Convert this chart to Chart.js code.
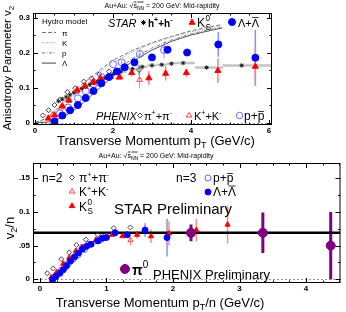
<!DOCTYPE html>
<html>
<head>
<meta charset="utf-8">
<script src="https://cdn.jsdelivr.net/npm/chart.js@4.4.0/dist/chart.umd.min.js"></script>
<style>
body{margin:0;background:#fff;width:346px;height:312px;overflow:hidden;position:relative}
#top{position:absolute;left:0;top:0}
#bot{position:absolute;left:0;top:150px}
</style>
</head>
<body>
<canvas id="top" width="346" height="150"></canvas>
<canvas id="bot" width="346" height="162"></canvas>
<script>
// ---- top panel: v2 vs pT ----
var topXTicks = [0, 2, 4, 6];
var topYTicks = [0, 0.1, 0.2, 0.3];
var topYLabels = ['0', '0.1', '0.2', '0.3'];

var hydroPt = [0, 0.25, 0.5, 0.75, 1.0, 1.25, 1.5, 1.75, 2.0, 2.5, 3.0, 3.5, 4.0, 4.5, 4.8];
var hydroPi = [0, 0.01, 0.032, 0.06, 0.09, 0.113, 0.135, 0.157, 0.178, 0.206, 0.228, 0.246, 0.262, 0.274, 0.28];
var hydroK = [0, 0.006, 0.025, 0.05, 0.078, 0.104, 0.128, 0.15, 0.171, 0.202, 0.225, 0.244, 0.259, 0.27, 0.276];
var hydroP = [0, 0.001, 0.008, 0.022, 0.042, 0.067, 0.093, 0.118, 0.142, 0.183, 0.213, 0.236, 0.253, 0.266, 0.272];
var hydroLam = [0, 0, 0.005, 0.017, 0.035, 0.058, 0.083, 0.108, 0.132, 0.175, 0.207, 0.232, 0.25, 0.263, 0.27];

var starLamPt = [0.5, 0.7, 0.9, 1.1, 1.3, 1.5, 1.7, 1.9, 2.1, 2.3, 2.55, 3.0, 3.4, 3.9, 4.7, 5.65];
var starLamV2 = [0.003, 0.02, 0.035, 0.05, 0.07, 0.09, 0.112, 0.13, 0.146, 0.158, 0.172, 0.186, 0.208, 0.2, 0.223, 0.185];
var starLamErr = [0, 0, 0, 0, 0, 0, 0, 0, 0, 0, 0, 0.006, 0.01, 0.01, 0.035, 0.08];

var starK0Pt = [0.34, 0.5, 0.7, 0.87, 1.08, 1.28, 1.5, 1.68, 1.9, 2.16, 2.48, 2.92, 3.35, 3.88, 4.69, 5.65];
var starK0V2 = [0.012, 0.021, 0.047, 0.064, 0.093, 0.104, 0.117, 0.126, 0.13, 0.129, 0.142, 0.127, 0.14, 0.142, 0.148, 0.16];
var starK0Err = [0, 0, 0, 0, 0, 0, 0, 0, 0, 0, 0.01, 0.02, 0.02, 0.012, 0.035, 0.055];

var starHPt = [0.6, 0.7, 0.8, 0.9, 1.0, 1.1, 1.2, 1.3, 1.4, 1.5, 1.6, 1.7, 1.8, 1.9, 2.0, 2.2, 2.5, 2.75, 3.0, 3.25, 3.5, 3.8, 4.4, 5.3];
var starHV2 = [0.061, 0.067, 0.073, 0.079, 0.085, 0.091, 0.097, 0.103, 0.108, 0.113, 0.118, 0.123, 0.128, 0.133, 0.138, 0.145, 0.153, 0.159, 0.163, 0.165, 0.168, 0.17, 0.157, 0.163];
var starHLo = [null, null, null, null, null, null, null, null, null, null, null, null, null, null, null, 2.1, 2.35, 2.62, 2.88, 3.12, 3.38, 3.55, 4.1, 4.82];
var starHHi = [null, null, null, null, null, null, null, null, null, null, null, null, null, null, null, 2.35, 2.62, 2.88, 3.12, 3.38, 3.55, 4.1, 4.82, 6.1];

var phxPiPt = [0.2, 0.35, 0.5, 0.65, 0.83, 1.03, 1.25, 1.45, 1.65, 1.9, 2.2, 2.67];
var phxPiV2 = [0.02, 0.035, 0.05, 0.066, 0.087, 0.098, 0.117, 0.126, 0.138, 0.146, 0.15, 0.15];
var phxPiErr = [0, 0, 0, 0, 0, 0, 0, 0, 0, 0, 0.006, 0.015];

var phxKPt = [0.45, 0.67, 0.87, 1.07, 1.28, 1.5, 1.72, 1.95, 2.18, 2.68];
var phxKV2 = [0.022, 0.043, 0.062, 0.088, 0.102, 0.113, 0.122, 0.13, 0.131, 0.122];
var phxKErr = [0, 0, 0, 0, 0, 0, 0, 0, 0.008, 0.025];

var phxPPt = [0.64, 0.85, 1.1, 1.3, 1.5, 1.71, 2.0, 2.22, 2.69, 3.31];
var phxPV2 = [0.026, 0.043, 0.069, 0.09, 0.11, 0.129, 0.167, 0.172, 0.196, 0.207];
var phxPErr = [0, 0, 0, 0, 0, 0, 0, 0.006, 0.01, 0.025];

// ---- bottom panel: v2/n vs pT/n ----
var botXTicks = [0, 1, 2, 3, 4];
var botYTicks = [0, 0.05, 0.1, 0.15];
var botYLabels = ['0', '.05', '0.1', '.15'];
var fitLevel = 0.069;

var bPiX = [0.11, 0.2, 0.32, 0.44, 0.55, 0.69, 0.87, 1.11, 1.36];
var bPiY = [0.009, 0.016, 0.03, 0.04, 0.051, 0.059, 0.066, 0.076, 0.077];

var bKX = [0.22, 0.3, 0.38, 0.46, 0.54, 0.62, 0.72, 0.85, 1.0, 1.36];
var bKY = [0.006, 0.014, 0.022, 0.033, 0.041, 0.048, 0.053, 0.06, 0.064, 0.058];
var bKErr = [0, 0, 0, 0, 0, 0, 0, 0, 0, 0.008];

var bK0X = [0.17, 0.25, 0.35, 0.44, 0.54, 0.64, 0.75, 0.84, 0.95, 1.08, 1.24, 1.46, 1.67, 1.94, 2.35, 2.82];
var bK0Y = [0.003, 0.01, 0.023, 0.032, 0.042, 0.048, 0.052, 0.058, 0.062, 0.066, 0.064, 0.066, 0.064, 0.068, 0.073, 0.081];
var bK0Err = [0, 0, 0, 0, 0, 0, 0, 0, 0, 0, 0, 0.006, 0.01, 0.018, 0.017, 0.028];

var bPX = [0.21, 0.28, 0.37, 0.43, 0.5, 0.57, 0.67, 0.74, 0.9];
var bPY = [0.003, 0.01, 0.017, 0.024, 0.03, 0.036, 0.044, 0.052, 0.058];

var bLamX = [0.19, 0.24, 0.3, 0.35, 0.4, 0.46, 0.52, 0.58, 0.64, 0.7, 0.77, 0.87, 0.94, 1.0, 1.13, 1.31, 1.58, 1.91];
var bLamY = [-0.001, 0.004, 0.009, 0.014, 0.02, 0.027, 0.033, 0.039, 0.045, 0.049, 0.052, 0.057, 0.061, 0.062, 0.069, 0.066, 0.073, 0.062];
var bLamErr = [0, 0, 0, 0, 0, 0, 0, 0, 0, 0, 0, 0, 0, 0, 0, 0, 0.01, 0.028];

var bPi0X = [2.27, 3.35, 4.37];
var bPi0Y = [0.069, 0.069, 0.05];
var bPi0Err = [0.0125, 0.03, 0.05];

var FONT = '"Liberation Sans", Arial, sans-serif';
function fnt(size, extra) { return (extra ? extra + ' ' : '') + size + 'px ' + FONT; }

function pts(xs, ys) {
  var out = [];
  for (var i = 0; i < xs.length; i++) out.push({x: xs[i], y: ys[i]});
  return out;
}

// error bars drawn under the markers
var errBars = {
  id: 'errBars',
  beforeDatasetsDraw: function(chart) {
    var ctx = chart.ctx, x = chart.scales.x, y = chart.scales.y, a = chart.chartArea;
    ctx.save();
    ctx.beginPath(); ctx.rect(a.left, a.top, a.right - a.left, a.bottom - a.top); ctx.clip();
    // zero line
    ctx.strokeStyle = '#999'; ctx.lineWidth = 1; ctx.setLineDash([2, 2]);
    var y0 = Math.round(y.getPixelForValue(0)) + 0.5;
    ctx.beginPath(); ctx.moveTo(a.left, y0); ctx.lineTo(a.right, y0); ctx.stroke();
    ctx.setLineDash([]);
    chart.data.datasets.forEach(function(ds) {
      if (!ds.errY && !ds.errLo) return;
      ctx.strokeStyle = ds.errColor; ctx.lineWidth = ds.errWidth || 1;
      ds.data.forEach(function(p, i) {
        var px = x.getPixelForValue(p.x), py = y.getPixelForValue(p.y);
        if (ds.errY && ds.errY[i]) {
          ctx.beginPath();
          ctx.moveTo(px, y.getPixelForValue(p.y - ds.errY[i]));
          ctx.lineTo(px, y.getPixelForValue(p.y + ds.errY[i]));
          ctx.stroke();
        }
        if (ds.errLo && ds.errLo[i] != null) {
          ctx.beginPath();
          ctx.moveTo(x.getPixelForValue(ds.errLo[i]), py);
          ctx.lineTo(x.getPixelForValue(ds.errHi[i]), py);
          ctx.stroke();
        }
      });
    });
    ctx.restore();
  }
};

function framePlugin(xMin, yMin) {
  return {
    id: 'frame',
    afterDatasetsDraw: function(chart) {
      var ctx = chart.ctx, a = chart.chartArea, x = chart.scales.x, y = chart.scales.y;
      ctx.save();
      ctx.strokeStyle = '#000'; ctx.lineWidth = 1;
      ctx.strokeRect(a.left + 0.5, a.top + 0.5, a.right - a.left - 1, a.bottom - a.top - 1);
      function xt(v, len) {
        var px = Math.round(x.getPixelForValue(v)) + 0.5;
        if (px < a.left + 1 || px > a.right - 1) return;
        ctx.beginPath();
        ctx.moveTo(px, a.bottom); ctx.lineTo(px, a.bottom - len);
        ctx.moveTo(px, a.top); ctx.lineTo(px, a.top + len);
        ctx.stroke();
      }
      function yt(v, len) {
        var py = Math.round(y.getPixelForValue(v)) + 0.5;
        if (py < a.top + 1 || py > a.bottom - 1) return;
        ctx.beginPath();
        ctx.moveTo(a.left, py); ctx.lineTo(a.left + len, py);
        ctx.moveTo(a.right, py); ctx.lineTo(a.right - len, py);
        ctx.stroke();
      }
      x.ticks.forEach(function(t) { xt(t.value, 5); });
      y.ticks.forEach(function(t) { yt(t.value, 5); });
      var k;
      for (k = Math.ceil(x.min / xMin); k * xMin <= x.max; k++) xt(k * xMin, 2.5);
      for (k = Math.ceil(y.min / yMin); k * yMin <= y.max; k++) yt(k * yMin, 2.5);
      ctx.restore();
    }
  };
}

// text with sub/superscripts: parts = [text, font, dy, overline]
function rich(ctx, x, y, parts, align) {
  var w = 0;
  parts.forEach(function(p) { ctx.font = p[1]; w += ctx.measureText(p[0]).width; });
  var cx = align === 'center' ? x - w / 2 : x;
  parts.forEach(function(p) {
    ctx.font = p[1];
    var tw = ctx.measureText(p[0]).width;
    ctx.fillText(p[0], cx, y + (p[2] || 0));
    if (p[3]) {
      ctx.beginPath(); ctx.lineWidth = 0.8;
      var oy = y + (p[2] || 0) - p[3];
      ctx.moveTo(cx + 0.5, oy); ctx.lineTo(cx + tw - 0.5, oy); ctx.stroke();
    }
    cx += tw;
  });
  return w;
}

function mark(ctx, style, x, y, r, fill, stroke) {
  ctx.save();
  ctx.fillStyle = fill || 'rgba(0,0,0,0)';
  ctx.strokeStyle = stroke || fill;
  ctx.lineWidth = 1;
  Chart.helpers.drawPoint(ctx, {pointStyle: style, radius: r, rotation: 0, borderWidth: 1}, x, y);
  ctx.restore();
}

function header(ctx, cx, by) {
  ctx.fillStyle = '#000'; ctx.strokeStyle = '#000';
  rich(ctx, cx, by, [
    ['Au+Au: \u221A', fnt(7)], ['s', fnt(7), 0, 6], ['NN', fnt(5), 1.5, 7.5],
    [' = 200 GeV: Mid-rapidity', fnt(7)]
  ], 'center');
}

function kShort(ctx, x, y, size) {
  ctx.font = fnt(size);
  ctx.fillText('K', x, y);
  var w = ctx.measureText('K').width;
  ctx.font = fnt(size * 0.68);
  ctx.fillText('0', x + w + 0.5, y - size * 0.5);
  ctx.fillText('S', x + w + 0.5, y + size * 0.25);
}

var topText = {
  id: 'topText',
  afterDraw: function(chart) {
    var ctx = chart.ctx;
    ctx.save();
    ctx.fillStyle = '#000'; ctx.strokeStyle = '#000'; ctx.textBaseline = 'alphabetic';
    header(ctx, 162, 8);
    // y title
    ctx.save();
    ctx.translate(11, 68); ctx.rotate(-Math.PI / 2);
    rich(ctx, 0, 0, [['Anisotropy Parameter v', fnt(11.5)], ['2', fnt(8), 3]], 'center');
    ctx.restore();
    // x title
    rich(ctx, 156, 145, [['Transverse Momentum p', fnt(13)], ['T', fnt(9), 3], [' (GeV/c)', fnt(13)]], 'center');
    // hydro legend
    ctx.font = fnt(8);
    ctx.fillText('Hydro model', 42, 24);
    var lab = ['\u03C0', 'K', 'p', '\u039B'];
    var dashes = [[4, 2], [1, 1.5], [3, 1.5, 1, 1.5], []];
    var cols = ['#777', '#999', '#777', '#444'];
    for (var i = 0; i < 4; i++) {
      var ly = 32.5 + i * 10.2;
      ctx.save(); ctx.setLineDash(dashes[i]); ctx.strokeStyle = cols[i]; ctx.lineWidth = 1;
      ctx.beginPath(); ctx.moveTo(42, ly); ctx.lineTo(56, ly); ctx.stroke(); ctx.restore();
      ctx.font = fnt(8); ctx.fillText(lab[i], 62, ly + 3);
    }
    // STAR row
    ctx.font = fnt(11, 'italic'); ctx.fillText('STAR', 108, 27);
    mark(ctx, 'star', 143.5, 22.5, 2.5, null, '#000');
    rich(ctx, 148, 27, [['h', fnt(10, 'bold')], ['+', fnt(7, 'bold'), -5], ['+h', fnt(10, 'bold')], ['-', fnt(7, 'bold'), -5]]);
    mark(ctx, 'triangle', 192, 22.5, 3.5, '#f00', '#f00');
    ctx.fillStyle = '#000'; kShort(ctx, 197, 27, 12);
    mark(ctx, 'circle', 232, 22, 3.5, '#00f', '#00f');
    ctx.fillStyle = '#000';
    rich(ctx, 238, 27, [['\u039B+', fnt(11)], ['\u039B', fnt(11), 0, 9.5]]);
    // PHENIX row
    ctx.font = fnt(11, 'italic'); ctx.fillText('PHENIX', 96, 120);
    mark(ctx, 'rectRot', 140, 115.5, 2.5, null, '#444');
    ctx.fillStyle = '#000';
    rich(ctx, 144, 120, [['\u03C0', fnt(11)], ['+', fnt(7), -5], ['+\u03C0', fnt(11)], ['-', fnt(7), -5]]);
    mark(ctx, 'triangle', 189, 115.5, 3.2, null, '#f44');
    ctx.fillStyle = '#000';
    rich(ctx, 194, 120, [['K', fnt(11)], ['+', fnt(7), -5], ['+K', fnt(11)], ['-', fnt(7), -5]]);
    mark(ctx, 'circle', 239.5, 115.5, 3.2, null, '#66f');
    ctx.fillStyle = '#000';
    rich(ctx, 244, 120, [['p+', fnt(12)], ['p', fnt(12), 0, 8.5]]);
    ctx.restore();
  }
};

var botText = {
  id: 'botText',
  afterDraw: function(chart) {
    var ctx = chart.ctx;
    ctx.save();
    ctx.fillStyle = '#000'; ctx.strokeStyle = '#000'; ctx.textBaseline = 'alphabetic';
    header(ctx, 156, 8);
    ctx.save();
    ctx.translate(14, 78); ctx.rotate(-Math.PI / 2);
    rich(ctx, 0, 0, [['v', fnt(13)], ['2', fnt(9), 3], ['/n', fnt(13)]], 'center');
    ctx.restore();
    rich(ctx, 160, 157, [['Transverse Momentum p', fnt(13)], ['T', fnt(9), 3], ['/n (GeV/c)', fnt(13)]], 'center');
    // legend n=2
    ctx.font = fnt(12); ctx.fillText('n=2', 42, 32);
    mark(ctx, 'rectRot', 72, 27.5, 2.5, null, '#444');
    ctx.fillStyle = '#000';
    rich(ctx, 79, 32, [['\u03C0', fnt(12)], ['+', fnt(7), -5], ['+\u03C0', fnt(12)], ['-', fnt(7), -5]]);
    mark(ctx, 'triangle', 72, 41.5, 3.2, null, '#f44');
    ctx.fillStyle = '#000';
    rich(ctx, 79, 46, [['K', fnt(12)], ['+', fnt(7), -5], ['+K', fnt(12)], ['-', fnt(7), -5]]);
    mark(ctx, 'triangle', 72, 56, 3.2, '#f00', '#f00');
    ctx.fillStyle = '#000'; kShort(ctx, 79, 61, 12);
    ctx.font = fnt(15); ctx.fillText('STAR Preliminary', 114, 64);
    // legend n=3
    ctx.font = fnt(12); ctx.fillText('n=3', 176, 32);
    mark(ctx, 'circle', 208, 28, 3, null, '#66f');
    ctx.fillStyle = '#000';
    rich(ctx, 213, 32, [['p+', fnt(12)], ['p', fnt(12), 0, 8.5]]);
    mark(ctx, 'circle', 208, 42, 3, '#00f', '#00f');
    ctx.fillStyle = '#000';
    rich(ctx, 213, 46, [['\u039B+', fnt(12)], ['\u039B', fnt(12), 0, 10]]);
    // PHENIX pi0
    mark(ctx, 'circle', 125, 119, 4.5, '#800080', '#800080');
    ctx.fillStyle = '#000';
    rich(ctx, 132, 125, [['\u03C0', fnt(14, 'bold')], ['0', fnt(10), -7]]);
    ctx.font = fnt(13); ctx.fillText('PHENIX Preliminary', 153, 129);
    ctx.restore();
  }
};

function tickFont() { return {size: 8, weight: 'bold', family: FONT}; }

// ---- top chart ----
new Chart(document.getElementById('top'), {
  type: 'scatter',
  data: {
    datasets: [
      {data: pts(starLamPt, starLamV2), pointStyle: 'circle', pointRadius: 3.5, backgroundColor: '#00f', borderColor: '#00f',
       errY: starLamErr, errColor: '#8c8cff', errWidth: 1.5},
      {data: pts(starK0Pt, starK0V2), pointStyle: 'triangle', pointRadius: 3.5, backgroundColor: '#f00', borderColor: '#f00',
       errY: starK0Err, errColor: '#ff8080', errWidth: 1.5},
      {data: pts(starHPt, starHV2), pointStyle: 'star', pointRadius: 2.2, backgroundColor: '#000', borderColor: '#222', borderWidth: 1,
       errLo: starHLo, errHi: starHHi, errColor: '#c4c4c4', errWidth: 2.5},
      {data: pts(phxPPt, phxPV2), pointStyle: 'circle', pointRadius: 3.5, backgroundColor: 'rgba(0,0,0,0)', borderColor: '#6a6aff', borderWidth: 1,
       errY: phxPErr, errColor: '#9a9aff'},
      {data: pts(phxKPt, phxKV2), pointStyle: 'triangle', pointRadius: 3.2, backgroundColor: 'rgba(0,0,0,0)', borderColor: '#ff4a4a', borderWidth: 1,
       errY: phxKErr, errColor: '#ff8a8a'},
      {data: pts(phxPiPt, phxPiV2), pointStyle: 'rectRot', pointRadius: 2.5, backgroundColor: 'rgba(0,0,0,0)', borderColor: '#444', borderWidth: 1,
       errY: phxPiErr, errColor: '#777'},
      {data: pts(hydroPt, hydroPi), showLine: true, pointRadius: 0, borderColor: '#777', borderWidth: 1, borderDash: [4, 2]},
      {data: pts(hydroPt, hydroK), showLine: true, pointRadius: 0, borderColor: '#999', borderWidth: 1, borderDash: [1, 1.5]},
      {data: pts(hydroPt, hydroP), showLine: true, pointRadius: 0, borderColor: '#777', borderWidth: 1, borderDash: [3, 1.5, 1, 1.5]},
      {data: pts(hydroPt, hydroLam), showLine: true, pointRadius: 0, borderColor: '#555', borderWidth: 1}
    ]
  },
  options: {
    responsive: false, animation: false, devicePixelRatio: 1,
    layout: {padding: {left: 0, right: 74, top: 13, bottom: 0}},
    plugins: {legend: {display: false}, tooltip: {enabled: false}},
    scales: {
      x: {
        type: 'linear', min: -0.051, max: 6.077,
        afterFit: function(s) { s.height = 25; },
        afterBuildTicks: function(s) { s.ticks = topXTicks.map(function(v) { return {value: v}; }); },
        grid: {display: false, drawTicks: false}, border: {display: false},
        ticks: {padding: 1, autoSkip: false, maxRotation: 0, color: '#000', font: tickFont(),
                callback: function(v, i) { return String(topXTicks[i]); }}
      },
      y: {
        type: 'linear', min: -0.0071, max: 0.3129,
        afterFit: function(s) { s.width = 33; },
        afterBuildTicks: function(s) { s.ticks = topYTicks.map(function(v) { return {value: v}; }); },
        grid: {display: false, drawTicks: false}, border: {display: false},
        ticks: {padding: 3, autoSkip: false, color: '#000', font: tickFont(),
                callback: function(v, i) { return topYLabels[i]; }}
      }
    }
  },
  plugins: [errBars, framePlugin(0.5, 0.05), topText]
});

// ---- bottom chart ----
new Chart(document.getElementById('bot'), {
  type: 'scatter',
  data: {
    datasets: [
      {data: pts(bPi0X, bPi0Y), pointStyle: 'circle', pointRadius: 4.5, backgroundColor: '#800080', borderColor: '#800080',
       errY: bPi0Err, errColor: '#800080', errWidth: 3},
      {data: pts(bLamX, bLamY), pointStyle: 'circle', pointRadius: 3, backgroundColor: '#00f', borderColor: '#00f',
       errY: bLamErr, errColor: '#8c8cff', errWidth: 1.5},
      {data: pts(bK0X, bK0Y), pointStyle: 'triangle', pointRadius: 3, backgroundColor: '#f00', borderColor: '#f00',
       errY: bK0Err, errColor: '#ff8a8a', errWidth: 1.5},
      {data: pts(bPX, bPY), pointStyle: 'circle', pointRadius: 3, backgroundColor: 'rgba(0,0,0,0)', borderColor: '#6a6aff', borderWidth: 1},
      {data: pts(bKX, bKY), pointStyle: 'triangle', pointRadius: 3, backgroundColor: 'rgba(0,0,0,0)', borderColor: '#ff4a4a', borderWidth: 1,
       errY: bKErr, errColor: '#ff8a8a'},
      {data: pts(bPiX, bPiY), pointStyle: 'rectRot', pointRadius: 2.5, backgroundColor: 'rgba(0,0,0,0)', borderColor: '#444', borderWidth: 1},
      {data: [{x: -0.104, y: fitLevel}, {x: 4.517, y: fitLevel}], showLine: true, pointRadius: 0, borderColor: '#000', borderWidth: 2.5}
    ]
  },
  options: {
    responsive: false, animation: false, devicePixelRatio: 1,
    layout: {padding: {left: 0, right: 2, top: 13, bottom: 0}},
    plugins: {legend: {display: false}, tooltip: {enabled: false}},
    scales: {
      x: {
        type: 'linear', min: -0.104, max: 4.517,
        afterFit: function(s) { s.height = 29; },
        afterBuildTicks: function(s) { s.ticks = botXTicks.map(function(v) { return {value: v}; }); },
        grid: {display: false, drawTicks: false}, border: {display: false},
        ticks: {padding: 1, autoSkip: false, maxRotation: 0, color: '#000', font: tickFont(),
                callback: function(v, i) { return String(botXTicks[i]); }}
      },
      y: {
        type: 'linear', min: -0.0055, max: 0.1726,
        afterFit: function(s) { s.width = 33; },
        afterBuildTicks: function(s) { s.ticks = botYTicks.map(function(v) { return {value: v}; }); },
        grid: {display: false, drawTicks: false}, border: {display: false},
        ticks: {padding: 3, autoSkip: false, color: '#000', font: tickFont(),
                callback: function(v, i) { return botYLabels[i]; }}
      }
    }
  },
  plugins: [errBars, framePlugin(0.25, 0.025), botText]
});
</script>
</body>
</html>
